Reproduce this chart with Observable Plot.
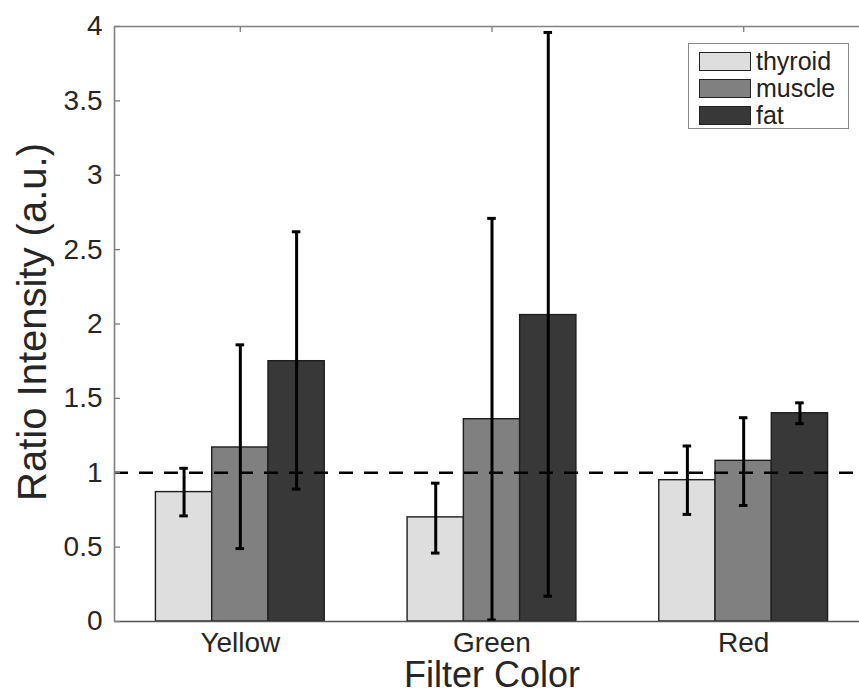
<!DOCTYPE html>
<html>
<head>
<meta charset="utf-8">
<script src="https://cdn.jsdelivr.net/npm/d3@7"></script>
<script src="https://cdn.jsdelivr.net/npm/@observablehq/plot@0.6"></script>
<style>
  html, body { margin: 0; padding: 0; background: #fff; }
  #wrap { position: relative; width: 859px; height: 694px; overflow: hidden; font-family: "Liberation Sans", Arial, sans-serif; }
  #legend { position: absolute; left: 688px; top: 43px; width: 161px; height: 86px; border: 1.5px solid #8a8a8a; background: #fff; box-sizing: border-box; }
  .item { position: absolute; left: 10px; height: 24px; display: flex; align-items: center; }
  .sw { width: 52px; height: 19px; border: 1.5px solid #222; box-sizing: border-box; }
  .lab { margin-left: 5px; font-size: 25px; color: #222; line-height: 22px; }
</style>
</head>
<body>
<div id="wrap"></div>
<script>
// ---- data ----
const categories = ["Yellow", "Green", "Red"];
const series = ["thyroid", "muscle", "fat"];
const thyroid   = [0.87, 0.70, 0.95];
const thyroidLo = [0.71, 0.46, 0.72];
const thyroidHi = [1.03, 0.93, 1.18];
const muscle    = [1.17, 1.36, 1.08];
const muscleLo  = [0.49, 0.01, 0.78];
const muscleHi  = [1.86, 2.71, 1.37];
const fat       = [1.75, 2.06, 1.40];
const fatLo     = [0.89, 0.17, 1.33];
const fatHi     = [2.62, 3.96, 1.47];
const yTicks = [0, 0.5, 1, 1.5, 2, 2.5, 3, 3.5, 4];
const refLine = [1];
const colors = ["#dedede", "#808080", "#383838"];

// ---- build table ----
const vals = [thyroid, muscle, fat];
const los = [thyroidLo, muscleLo, fatLo];
const his = [thyroidHi, muscleHi, fatHi];
const barStep = 0.2236, barHalf = barStep / 2, capHalf = 0.017;
const rows = [];
categories.forEach((c, i) => {
  series.forEach((s, j) => {
    const xc = i + 1 + (j - 1) * barStep;
    rows.push({category: c, series: s, xc, x1: xc - barHalf, x2: xc + barHalf,
               v: vals[j][i], lo: los[j][i], hi: his[j][i],
               c1: xc - capHalf, c2: xc + capHalf});
  });
});

const textColor = "#262626";
const frameColor = "#808080";

const chart = Plot.plot({
  width: 859,
  height: 694,
  marginLeft: 114,
  marginRight: 0,
  marginTop: 26,
  marginBottom: 73,
  style: {fontFamily: "'Liberation Sans', Arial, sans-serif", background: "#fff", color: textColor},
  x: {domain: [0.5, 3.5], range: [114, 869], axis: null},
  y: {domain: [0, 4], axis: null},
  color: {domain: series, range: colors},
  marks: [
    Plot.rectY(rows, {x1: "x1", x2: "x2", y1: 0, y2: "v", fill: "series", stroke: "#1e1e1e", strokeWidth: 1.4}),
    Plot.ruleY(refLine, {stroke: "#000", strokeWidth: 2.6, strokeDasharray: "14,11"}),
    Plot.ruleX(rows, {x: "xc", y1: "lo", y2: "hi", stroke: "#000", strokeWidth: 3}),
    Plot.ruleY(rows, {y: "hi", x1: "c1", x2: "c2", stroke: "#000", strokeWidth: 3}),
    Plot.ruleY(rows, {y: "lo", x1: "c1", x2: "c2", stroke: "#000", strokeWidth: 3}),
    // frame (left, top, bottom)
    Plot.ruleX([0.5], {stroke: frameColor, strokeWidth: 1.6}),
    Plot.ruleY([4], {stroke: frameColor, strokeWidth: 1.6}),
    Plot.ruleY([0], {stroke: "#555", strokeWidth: 1.6}),
    Plot.axisY({ticks: yTicks, tickSize: -6, tickPadding: 18, fontSize: 28, stroke: frameColor, strokeWidth: 1.4, label: null, tickFormat: d => String(d), color: textColor}),
    Plot.axisX({anchor: "top", ticks: [1, 2, 3], tickSize: -5, stroke: frameColor, strokeWidth: 1.4, tickFormat: () => "", label: null}),
    Plot.axisX({anchor: "bottom", ticks: [1, 2, 3], tickSize: 0, tickPadding: 11, fontSize: 28, tickFormat: d => categories[d - 1], label: null, color: textColor}),
    Plot.text(["Filter Color"], {frameAnchor: "bottom", textAnchor: "middle", lineAnchor: "bottom", dx: 5, dy: 65, fontSize: 36, fill: textColor}),
    Plot.text(["Ratio Intensity (a.u.)"], {frameAnchor: "left", textAnchor: "middle", lineAnchor: "bottom", rotate: -90, dx: -69, dy: -2, fontSize: 40, fill: textColor})
  ]
});

const wrap = document.getElementById("wrap");
wrap.appendChild(chart);

// legend
const legend = document.createElement("div");
legend.id = "legend";
series.forEach((s, j) => {
  const it = document.createElement("div");
  it.className = "item";
  it.style.top = (5 + j * 27) + "px";
  const sw = document.createElement("div");
  sw.className = "sw";
  sw.style.background = colors[j];
  const lb = document.createElement("span");
  lb.className = "lab";
  lb.textContent = s;
  it.appendChild(sw); it.appendChild(lb);
  legend.appendChild(it);
});
wrap.appendChild(legend);
</script>
</body>
</html>
